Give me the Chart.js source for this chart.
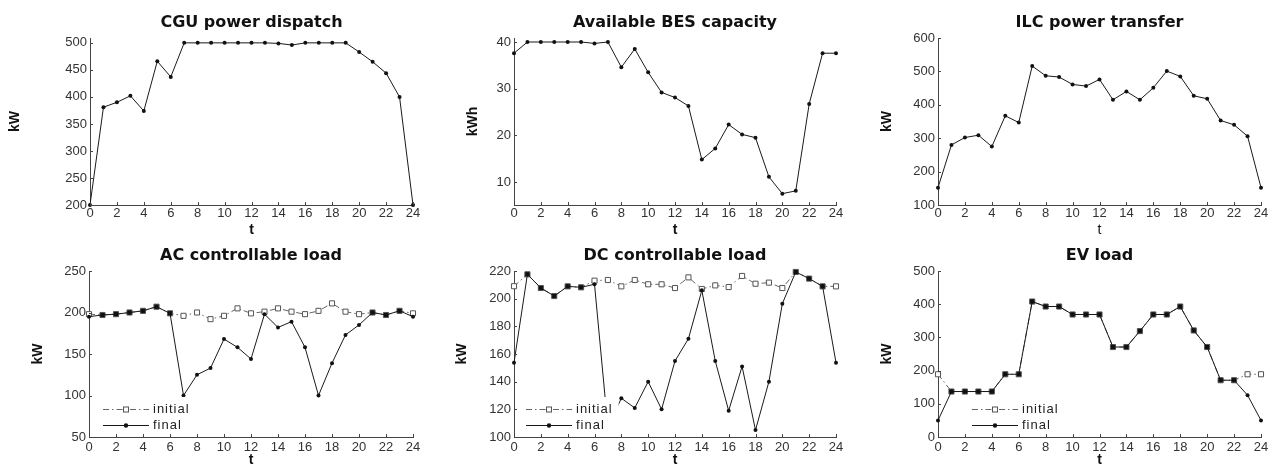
<!DOCTYPE html>
<html>
<head>
<meta charset="utf-8">
<script src="https://cdn.jsdelivr.net/npm/chart.js@4.4.1/dist/chart.umd.min.js"></script>
<style>
  html, body { margin: 0; padding: 0; background: #fff; overflow: hidden; width: 1273px; height: 467px; }
  canvas { position: absolute; }
</style>
</head>
<body>
<canvas id="cgu"></canvas>
<canvas id="bes"></canvas>
<canvas id="ilc"></canvas>
<canvas id="acl"></canvas>
<canvas id="dcl"></canvas>
<canvas id="ev"></canvas>
<script>
// hours of the day (x axis)
const hours = [0, 1, 2, 3, 4, 5, 6, 7, 8, 9, 10, 11, 12, 13, 14, 15, 16, 17, 18, 19, 20, 21, 22, 23, 24];
const hourTicks = [0, 2, 4, 6, 8, 10, 12, 14, 16, 18, 20, 22, 24];

// series values
const cguPower = [200, 381, 390, 402, 374, 466, 437, 500, 500, 500, 500, 500, 500, 500, 499, 496, 500, 500, 500, 500, 483, 465, 444, 400, 200];
const besCapacity = [37.6, 40, 40, 40, 40, 40, 39.7, 40, 34.6, 38.5, 33.5, 29.2, 28.1, 26.3, 14.8, 17.2, 22.3, 20.2, 19.5, 11.1, 7.5, 8.1, 26.7, 37.6, 37.6];
const ilcTransfer = [152, 280, 302, 309, 275, 367, 347, 516, 487, 483, 461, 456, 476, 415, 440, 415, 451, 501, 485, 427, 418, 353, 340, 306, 152];

const acInitial = [198, 197, 198, 200, 202, 207, 199, 196, 200, 192, 196, 205, 199, 201, 205, 201, 198, 202, 211, 201, 198, 200, 197, 202, 199];
const acFinal = [195, 197, 198, 200, 202, 207, 199, 100, 125, 133, 168, 158, 144, 198, 182, 189, 158, 100, 139, 173, 185, 200, 197, 202, 195];

const dcInitial = [209, 217.6, 207.7, 201.9, 208.9, 208.2, 213, 213.5, 208.9, 213.5, 210.4, 210.4, 207.7, 215.4, 207, 209.6, 208.4, 216.4, 210.8, 211.6, 207.7, 219.3, 214.5, 208.9, 208.9];
const dcFinal = [153.7, 217.6, 207.7, 201.9, 208.9, 208.2, 210.4, 107, 128, 121, 140, 120, 155, 171, 206, 155, 119, 151, 105, 140, 196.4, 219.3, 214.5, 208.9, 153.7];

const evInitial = [189, 137, 137, 137, 137, 189, 189, 408, 393, 393, 369, 369, 369, 271, 271, 319, 369, 369, 393, 321, 271, 171, 171, 189, 189];
const evFinal = [50, 137, 137, 137, 137, 189, 189, 408, 393, 393, 369, 369, 369, 271, 271, 319, 369, 369, 393, 321, 271, 171, 171, 126, 50];

// y tick labels
const cguTicks = [200, 250, 300, 350, 400, 450, 500];
const besTicks = [10, 20, 30, 40];
const ilcTicks = [100, 200, 300, 400, 500, 600];
const acTicks = [50, 100, 150, 200, 250];
const dcTicks = [100, 120, 140, 160, 180, 200, 220];
const evTicks = [0, 100, 200, 300, 400, 500];

const AXIS_COLOR = "#444";
const LINE_COLOR = "#1a1a1a";
const YW = 90, PAD_R = 12, TOP_H = 30, XH = 34;

// small inward tick marks like the original axes
const innerTicks = {
  id: "innerTicks",
  afterDraw(chart) {
    const { ctx, chartArea, scales } = chart;
    ctx.save();
    ctx.strokeStyle = AXIS_COLOR;
    ctx.lineWidth = 1;
    ctx.beginPath();
    scales.x.ticks.forEach(t => {
      const px = Math.round(scales.x.getPixelForValue(t.value)) + 0.5;
      ctx.moveTo(px, chartArea.bottom);
      ctx.lineTo(px, chartArea.bottom - 3);
    });
    scales.y.ticks.forEach(t => {
      const py = Math.round(scales.y.getPixelForValue(t.value)) + 0.5;
      ctx.moveTo(chartArea.left, py);
      ctx.lineTo(chartArea.left + 3, py);
    });
    ctx.stroke();
    ctx.restore();
  }
};

// boxed legend sitting in the lower left of the axes
const miniLegend = {
  id: "miniLegend",
  afterDatasetsDraw(chart, args, opts) {
    if (!opts.show) return;
    const { ctx, chartArea } = chart;
    const rows = [chart.data.datasets[1], chart.data.datasets[0]];
    const x0 = chartArea.left + opts.x;
    const b = chartArea.bottom;
    ctx.save();
    ctx.font = '13px "Liberation Sans"';
    ctx.letterSpacing = "1px";
    const tw = Math.max(...rows.map(d => ctx.measureText(d.label).width));
    const boxL = x0 - 8, boxT = b - 40, boxR = x0 + 46 + 4 + tw + 6;
    ctx.fillStyle = "#fff";
    ctx.fillRect(boxL, boxT, boxR - boxL, b - 1 - boxT);
    rows.forEach((ds, i) => {
      const y = Math.round(b - 28.5 + i * 16.5) + 0.5;
      ctx.strokeStyle = ds.borderColor;
      ctx.lineWidth = 1;
      ctx.setLineDash(ds.borderDash || []);
      ctx.beginPath();
      ctx.moveTo(x0, y);
      ctx.lineTo(x0 + 46, y);
      ctx.stroke();
      ctx.setLineDash([]);
      const mx = x0 + 23;
      if (ds.pointStyle === "rect") {
        ctx.fillStyle = "#fff";
        ctx.strokeStyle = ds.pointBorderColor;
        ctx.fillRect(mx - 2.5, y - 2.5, 5, 5);
        ctx.strokeRect(mx - 2.5, y - 2.5, 5, 5);
      } else {
        ctx.fillStyle = ds.pointBackgroundColor;
        ctx.beginPath();
        ctx.arc(mx, y, 2.2, 0, Math.PI * 2);
        ctx.fill();
      }
      ctx.fillStyle = "#222";
      ctx.textBaseline = "middle";
      ctx.fillText(ds.label, x0 + 50, y);
    });
    ctx.restore();
  }
};

function pts(values) {
  return hours.map((h, i) => ({ x: h, y: values[i] }));
}

function finalSet(values, label) {
  return {
    label: label,
    data: pts(values),
    borderColor: LINE_COLOR,
    borderWidth: 1,
    pointStyle: "circle",
    pointRadius: 2,
    pointBorderWidth: 0,
    pointBackgroundColor: "#111",
    tension: 0,
    clip: 5
  };
}

function initialSet(values, finals) {
  return {
    label: "initial",
    data: pts(values),
    borderColor: "#666",
    borderWidth: 1,
    borderDash: [6, 3, 1.5, 3],
    pointStyle: "rect",
    pointRadius: 3.6,
    pointBorderWidth: 1,
    pointBorderColor: "#555",
    // where both runs coincide the original shows a filled marker
    pointBackgroundColor: c => (Math.abs(values[c.dataIndex] - finals[c.dataIndex]) < 0.01 ? "#111" : "#fff"),
    tension: 0,
    clip: 5
  };
}

function makePanel(p) {
  const canvas = document.getElementById(p.id);
  const w = p.R - p.L + YW + PAD_R;
  const h = p.B - p.T + TOP_H + XH;
  canvas.style.left = (p.L - YW) + "px";
  canvas.style.top = (p.T - TOP_H) + "px";
  canvas.style.width = w + "px";
  canvas.style.height = h + "px";
  canvas.width = w;
  canvas.height = h;

  new Chart(canvas, {
    type: "line",
    data: { datasets: p.datasets },
    options: {
      responsive: false,
      animation: false,
      devicePixelRatio: 1,
      layout: { padding: { left: 0, right: PAD_R, top: 0, bottom: 0 } },
      plugins: {
        legend: { display: false },
        tooltip: { enabled: false },
        title: {
          display: true,
          text: p.title,
          fullSize: false,
          color: "#111",
          font: { family: "DejaVu Sans", size: 16, weight: "bold" },
          padding: { top: 5.4, bottom: 5.4 }
        },
        miniLegend: { show: p.legendX != null, x: p.legendX }
      },
      scales: {
        x: {
          type: "linear",
          min: 0,
          max: 24,
          afterFit: s => { s.height = XH; },
          afterBuildTicks: s => { s.ticks = hourTicks.map(v => ({ value: v })); },
          grid: { display: false, drawTicks: false },
          border: { display: true, color: AXIS_COLOR, width: 1 },
          ticks: { padding: p.tickPad, color: "#333", maxRotation: 0, autoSkip: false, font: { family: "Liberation Sans", size: 13 } },
          title: {
            display: true,
            text: "t",
            color: "#111",
            font: { family: "Liberation Sans", size: 14, weight: p.tBold ? "bold" : "normal" },
            padding: { top: 0, bottom: p.tPad }
          }
        },
        y: {
          min: p.yMin,
          max: p.yMax,
          afterFit: s => { s.width = YW; },
          afterBuildTicks: s => { s.ticks = p.yTicks.map(v => ({ value: v })); },
          grid: { display: false, drawTicks: false },
          border: { display: true, color: AXIS_COLOR, width: 1 },
          ticks: { padding: 3, color: "#333", font: { family: "Liberation Sans", size: 13 } },
          title: {
            display: true,
            text: p.yLabel,
            color: "#111",
            font: { family: "Liberation Sans", size: 14, weight: "bold" },
            padding: { top: YW - p.yGap - 8.4, bottom: 0 }
          }
        }
      }
    },
    plugins: [miniLegend, innerTicks]
  });
}

document.addEventListener("DOMContentLoaded", () => {
  const top = { T: 38, B: 205, tickPad: 1, tPad: 0.6 };
  const bottom = { T: 271, B: 437, tickPad: 3, tPad: 2.6 };

  makePanel({ ...top, id: "cgu", L: 90, R: 413, title: "CGU power dispatch", yLabel: "kW", yGap: 75,
    yMin: 200, yMax: 509, yTicks: cguTicks, tBold: true, datasets: [finalSet(cguPower, "")] });
  makePanel({ ...top, id: "bes", L: 514, R: 836, title: "Available BES capacity", yLabel: "kWh", yGap: 41,
    yMin: 5.07, yMax: 40.86, yTicks: besTicks, tBold: true, datasets: [finalSet(besCapacity, "")] });
  makePanel({ ...top, id: "ilc", L: 938, R: 1261, title: "ILC power transfer", yLabel: "kW", yGap: 51,
    yMin: 100, yMax: 600, yTicks: ilcTicks, tBold: false, datasets: [finalSet(ilcTransfer, "")] });

  makePanel({ ...bottom, id: "acl", L: 89, R: 413, title: "AC controllable load", yLabel: "kW", yGap: 51,
    yMin: 50, yMax: 250, yTicks: acTicks, tBold: true, legendX: 14,
    datasets: [finalSet(acFinal, "final"), initialSet(acInitial, acFinal)] });
  makePanel({ ...bottom, id: "dcl", L: 514, R: 836, title: "DC controllable load", yLabel: "kW", yGap: 52,
    yMin: 100, yMax: 220, yTicks: dcTicks, tBold: true, legendX: 12,
    datasets: [finalSet(dcFinal, "final"), initialSet(dcInitial, dcFinal)] });
  makePanel({ ...bottom, id: "ev", L: 938, R: 1261, title: "EV load", yLabel: "kW", yGap: 51,
    yMin: 0, yMax: 500, yTicks: evTicks, tBold: true, legendX: 34,
    datasets: [finalSet(evFinal, "final"), initialSet(evInitial, evFinal)] });
});
</script>
</body>
</html>
